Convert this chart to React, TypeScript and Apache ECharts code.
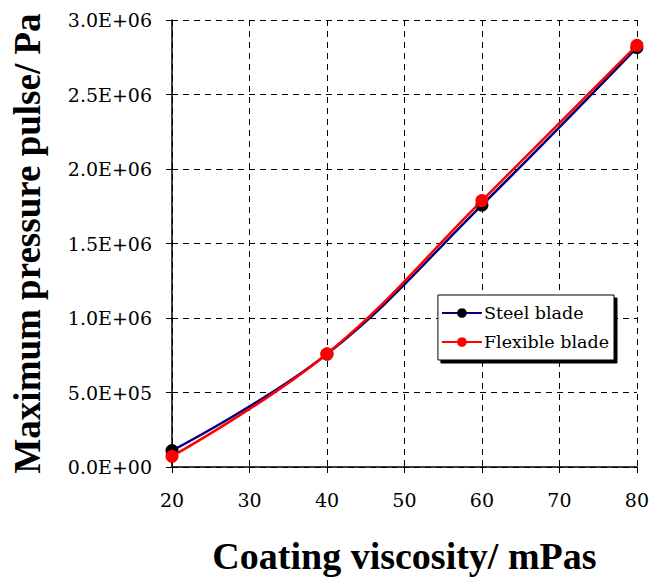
import React, { useEffect, useRef } from "react";
import * as echarts from "echarts";

const viscosity = [20, 40, 60, 80];
const steelBlade = [110000, 758000, 1758000, 2815000];
const flexibleBlade = [72000, 760000, 1788000, 2830000];
const xTicks = [20, 30, 40, 50, 60, 70, 80];

const FONT = "Liberation Serif";
const TICKFONT = "DejaVu Serif";

export default function App() {
  const ref = useRef<HTMLDivElement>(null);
  useEffect(() => {
    document.body.style.margin = "0";
    const chart = echarts.init(ref.current!, undefined, { renderer: "svg" });
    const fmt = (v: number) => {
      const e = v === 0 ? 0 : Math.floor(Math.log10(v));
      const m = v / Math.pow(10, e);
      return m.toFixed(1) + "E+" + String(e).padStart(2, "0");
    };
    const label = { fontFamily: TICKFONT, fontSize: 19, color: "#000" };
    chart.setOption({
      animation: false,
      backgroundColor: "#ffffff",
      textStyle: { fontFamily: TICKFONT, fontSize: 19, color: "#000" },
      grid: { left: 172, right: 15, top: 20, bottom: 114, containLabel: false },
      legend: {
        orient: "vertical",
        right: 38,
        top: 295,
        backgroundColor: "#ffffff",
        borderColor: "#000",
        borderWidth: 1,
        borderRadius: 0,
        padding: [9, 5, 9, 3],
        itemGap: 11,
        itemWidth: 40,
        itemHeight: 12,
        shadowColor: "#000",
        shadowOffsetX: 3,
        shadowOffsetY: 3,
        shadowBlur: 0,
        textStyle: { ...label, fontSize: 17.5, padding: [0, 0, 0, -3] },
        data: ["Steel blade", "Flexible blade"],
      },
      xAxis: {
        type: "value",
        min: 20,
        max: 80,
        interval: 10,
        name: "Coating viscosity/ mPas",
        nameLocation: "middle",
        nameGap: 70,
        nameTextStyle: { fontFamily: FONT, fontSize: 38, fontWeight: "bold", color: "#000" },
        axisLine: { show: true, onZero: false, lineStyle: { color: "#000", width: 1.5 } },
        axisTick: { show: true, length: 6, lineStyle: { color: "#000" } },
        axisLabel: {
          ...label,
          margin: 23,
          formatter: (v: number) => (xTicks.includes(v) ? String(v) : ""),
        },
        splitLine: { show: true, lineStyle: { color: "#000", type: [6, 5], width: 1 } },
      },
      yAxis: [
        {
          type: "value",
          min: 0,
          max: 3000000,
          interval: 500000,
          name: "Maximum pressure pulse/ Pa",
          nameLocation: "middle",
          nameGap: 126,
          nameTextStyle: { fontFamily: FONT, fontSize: 37, fontWeight: "bold", color: "#000" },
          axisLine: { show: true, lineStyle: { color: "#000", width: 1.5 } },
          axisTick: { show: true, length: 6, lineStyle: { color: "#000" } },
          axisLabel: { ...label, margin: 20, formatter: fmt },
          splitLine: { show: true, lineStyle: { color: "#000", type: [6, 5], width: 1 } },
        },
        {
          type: "value",
          min: 0,
          max: 3000000,
          interval: 500000,
          position: "left",
          axisLine: { show: false },
          axisTick: { show: true, inside: true, length: 6, lineStyle: { color: "#000" } },
          axisLabel: { show: false },
          splitLine: { show: false },
        },
      ],
      series: [
        {
          name: "Steel blade",
          type: "line",
          smooth: 0.4,
          data: viscosity.map((x, i) => [x, steelBlade[i]]),
          symbol: "circle",
          symbolSize: 13,
          itemStyle: { color: "#000000" },
          lineStyle: { color: "#000080", width: 2.5 },
          z: 3,
        },
        {
          name: "Flexible blade",
          type: "line",
          smooth: 0.4,
          data: viscosity.map((x, i) => [x, flexibleBlade[i]]),
          symbol: "circle",
          symbolSize: 13,
          itemStyle: { color: "#ff0000" },
          lineStyle: { color: "#ff0000", width: 2.5 },
          z: 4,
        },
      ],
    });
    return () => chart.dispose();
  }, []);
  return <div ref={ref} style={{ width: 652, height: 581 }} />;
}
